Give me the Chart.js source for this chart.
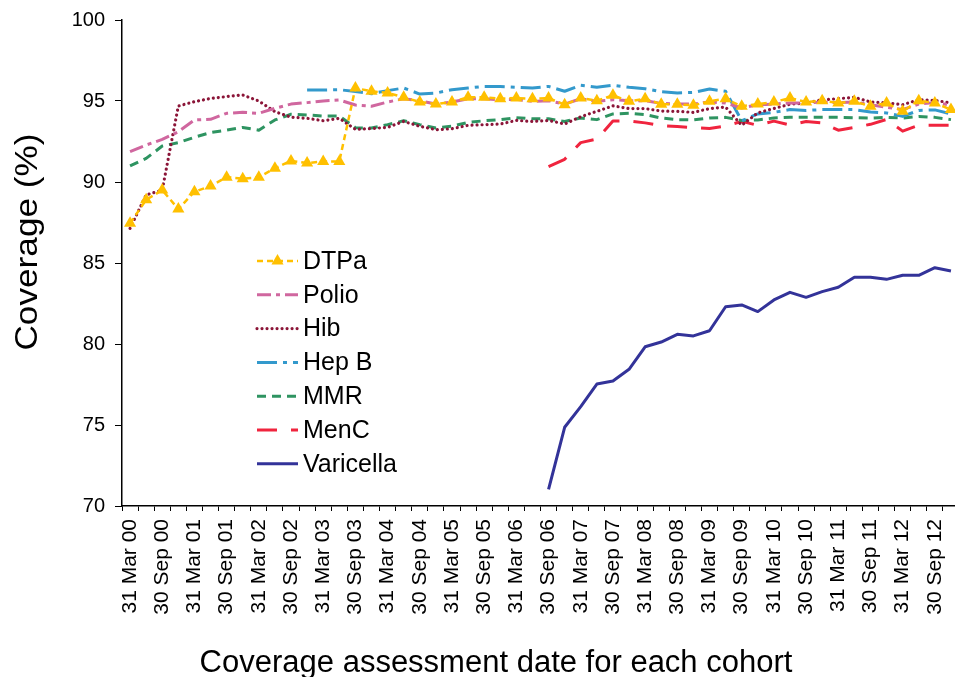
<!DOCTYPE html>
<html><head><meta charset="utf-8">
<script src="https://cdn.jsdelivr.net/npm/chart.js@4.4.0/dist/chart.umd.min.js"></script>
<style>
html,body{margin:0;padding:0;background:#fff;overflow:hidden;width:955px;height:677px}
#wrap{position:absolute;left:0;top:0;width:966px;height:677px}
</style></head><body>
<div id="wrap"><canvas id="c" width="966" height="677"></canvas></div>
<script>
const quarters = [
 "31 Mar 00","30 Jun 00","30 Sep 00","31 Dec 00",
 "31 Mar 01","30 Jun 01","30 Sep 01","31 Dec 01",
 "31 Mar 02","30 Jun 02","30 Sep 02","31 Dec 02",
 "31 Mar 03","30 Jun 03","30 Sep 03","31 Dec 03",
 "31 Mar 04","30 Jun 04","30 Sep 04","31 Dec 04",
 "31 Mar 05","30 Jun 05","30 Sep 05","31 Dec 05",
 "31 Mar 06","30 Jun 06","30 Sep 06","31 Dec 06",
 "31 Mar 07","30 Jun 07","30 Sep 07","31 Dec 07",
 "31 Mar 08","30 Jun 08","30 Sep 08","31 Dec 08",
 "31 Mar 09","30 Jun 09","30 Sep 09","31 Dec 09",
 "31 Mar 10","30 Jun 10","30 Sep 10","31 Dec 10",
 "31 Mar 11","30 Jun 11","30 Sep 11","31 Dec 11",
 "31 Mar 12","30 Jun 12","30 Sep 12","31 Dec 12"
];

const dtpa = [87.45, 88.9, 89.5, 88.33, 89.4, 89.75, 90.3, 90.2, 90.3, 90.85,
 91.3, 91.17, 91.27, 91.27, 95.8, 95.6, 95.5, 95.23, 94.94, 94.81,
 94.94, 95.23, 95.23, 95.14, 95.18, 95.14, 95.18, 94.77, 95.18, 95.02,
 95.35, 94.98, 95.14, 94.8, 94.8, 94.73, 94.98, 95.14, 94.67, 94.81,
 94.94, 95.18, 94.94, 95.02, 94.88, 94.98, 94.67, 94.88, 94.36, 95.02,
 94.88, 94.47];

const polio = [91.87, 92.28, 92.63, 93.1, 93.83, 93.87, 94.24, 94.3, 94.24, 94.55,
 94.81, 94.9, 95.0, 95.06, 94.75, 94.68, 94.94, 95.14, 95.02, 94.81,
 94.94, 95.14, 95.14, 95.08, 95.1, 94.98, 95.02, 94.81, 95.14, 94.98,
 95.08, 95.02, 95.02, 94.85, 94.81, 94.81, 94.94, 94.88, 94.57, 94.77,
 94.81, 94.88, 94.88, 94.94, 94.9, 94.94, 94.77, 94.61, 94.47, 94.81,
 94.9, 94.75];

const hib = [87.14, 89.2, 89.5, 94.69, 94.96, 95.16, 95.27, 95.37, 95.0, 94.34,
 94.0, 93.93, 93.78, 93.93, 93.25, 93.3, 93.37, 93.74, 93.44, 93.23,
 93.29, 93.5, 93.54, 93.58, 93.8, 93.74, 93.8, 93.58, 94.03, 94.36,
 94.7, 94.53, 94.53, 94.38, 94.36, 94.3, 94.53, 94.63, 93.5, 94.27,
 94.54, 94.8, 94.87, 95.08, 95.14, 95.23, 94.94, 94.88, 94.77, 95.08,
 95.04, 94.88];

const hepB = [null, null, null, null, null, null, null, null, null, null,
 null, 95.68, 95.68, 95.7, 95.58, 95.45, 95.64, 95.8, 95.43, 95.49,
 95.7, 95.8, 95.9, 95.9, 95.85, 95.8, 95.9, 95.6, 95.97, 95.85,
 95.97, 95.85, 95.76, 95.58, 95.5, 95.53, 95.74, 95.6, 93.78, 94.2,
 94.3, 94.47, 94.42, 94.47, 94.47, 94.47, 94.32, 94.26, 94.05, 94.42,
 94.45, 94.2];

const mmr = [90.99, 91.46, 92.22, 92.43, 92.76, 93.05, 93.2, 93.37, 93.2, 93.83,
 94.18, 94.14, 94.07, 94.07, 93.35, 93.33, 93.54, 93.78, 93.54, 93.33,
 93.44, 93.68, 93.78, 93.85, 93.97, 93.9, 93.9, 93.74, 93.95, 93.85,
 94.2, 94.24, 94.16, 93.95, 93.85, 93.83, 93.95, 93.99, 93.8, 93.83,
 93.95, 93.99, 93.99, 93.99, 93.99, 93.97, 93.95, 93.99, 93.95, 94.05,
 93.99, 93.85];

const menC = [null, null, null, null, null, null, null, null, null, null,
 null, null, null, null, null, null, null, null, null, null,
 null, null, null, null, null, null, 90.95, 91.4, 92.43, 92.65,
 93.76, 93.77, 93.65, 93.48, 93.42, 93.36, 93.3, 93.45, 93.74, 93.5,
 93.76, 93.52, 93.74, 93.65, 93.2, 93.37, 93.56, 93.86, 93.14, 93.5,
 93.5, 93.5];

const varicella = [null, null, null, null, null, null, null, null, null, null,
 null, null, null, null, null, null, null, null, null, null,
 null, null, null, null, null, null, 71.03, 74.86, 76.13, 77.53,
 77.72, 78.44, 79.83, 80.12, 80.6, 80.5, 80.82, 82.3, 82.41, 82.0,
 82.72, 83.19, 82.88, 83.23, 83.5, 84.12, 84.12, 83.99, 84.24, 84.24,
 84.71, 84.51];

const seriesNames = ["DTPa", "Polio", "Hib", "Hep B", "MMR", "MenC", "Varicella"];
const yTicks = [70, 75, 80, 85, 90, 95, 100];
const xTitle = "Coverage assessment date for each cohort";
const yTitle = "Coverage (%)";

const FONT = "'Liberation Sans', Arial, sans-serif";

const styles = [
  {color: "#FFC000", dash: [6, 4], width: 2.5, cap: "butt", point: "triangle"},
  {color: "#D0679F", dash: [14, 5, 4, 5], width: 3, cap: "butt"},
  {color: "#8B1538", dash: [0.01, 5], width: 3.2, cap: "round"},
  {color: "#3399CC", dash: [20, 6, 4, 6], width: 3, cap: "butt"},
  {color: "#2E9461", dash: [9, 6], width: 3, cap: "butt"},
  {color: "#F0243E", dash: [20, 14], width: 3, cap: "butt"},
  {color: "#333399", dash: [], width: 3, cap: "butt"}
];
const seriesData = [dtpa, polio, hib, hepB, mmr, menC, varicella];

const datasets = seriesData.map((d, i) => ({
  label: seriesNames[i],
  data: d,
  borderColor: styles[i].color,
  backgroundColor: styles[i].color,
  borderWidth: styles[i].width,
  borderDash: styles[i].dash,
  borderCapStyle: styles[i].cap,
  borderJoinStyle: "round",
  tension: 0,
  spanGaps: false,
  fill: false,
  pointStyle: styles[i].point || "circle",
  pointRadius: styles[i].point ? 7 : 0,
  pointBorderWidth: 0,
  pointBackgroundColor: styles[i].color,
  pointHoverRadius: 0
}));

const overlay = {
  id: "overlay",
  afterDraw(chart) {
    const ctx = chart.ctx;
    ctx.save();
    ctx.fillStyle = "#000";
    ctx.font = "31px " + FONT;
    ctx.textAlign = "center";
    ctx.textBaseline = "alphabetic";
    ctx.fillText(xTitle, 496, 672);
    ctx.save();
    ctx.translate(37, 242);
    ctx.rotate(-Math.PI / 2);
    ctx.font = "32px " + FONT;
    ctx.scale(1.1, 1);
    ctx.fillText(yTitle, 0, 0);
    ctx.restore();
    const x0 = 257, x1 = 298;
    chart.data.datasets.forEach((ds, i) => {
      const y = 261 + i * 33.8;
      ctx.save();
      ctx.strokeStyle = ds.borderColor;
      ctx.lineWidth = ds.borderWidth;
      ctx.lineCap = ds.borderCapStyle;
      ctx.setLineDash(ds.borderDash);
      ctx.beginPath();
      ctx.moveTo(x0, y);
      ctx.lineTo(x1, y);
      ctx.stroke();
      ctx.restore();
      if (ds.pointRadius > 0) {
        const cx = (x0 + x1) / 2, r = 7;
        ctx.fillStyle = ds.borderColor;
        ctx.beginPath();
        ctx.moveTo(cx, y - r);
        ctx.lineTo(cx + r * 0.866, y + r / 2);
        ctx.lineTo(cx - r * 0.866, y + r / 2);
        ctx.closePath();
        ctx.fill();
      }
      ctx.fillStyle = "#000";
      ctx.font = "25px " + FONT;
      ctx.textAlign = "left";
      ctx.textBaseline = "middle";
      ctx.fillText(ds.label, 303, y + 1);
    });
    ctx.restore();
  }
};

new Chart(document.getElementById("c"), {
  type: "line",
  data: {labels: quarters, datasets},
  options: {
    responsive: false,
    devicePixelRatio: 1,
    animation: false,
    layout: {padding: {top: 20, right: 3, left: 0, bottom: 0}},
    plugins: {legend: {display: false}, tooltip: {enabled: false}},
    scales: {
      x: {
        type: "category",
        offset: true,
        grid: {offset: true, drawOnChartArea: false, drawTicks: true, tickLength: 5, color: "#000", lineWidth: 1},
        border: {color: "#000", width: 1.5},
        ticks: {
          autoSkip: false, maxRotation: 90, minRotation: 90, padding: 8,
          color: "#000", font: {size: 21, family: FONT},
          callback: function (v, i) { return i % 2 === 0 ? quarters[i] : ""; }
        },
        afterFit(s) { s.height = 171; s.paddingLeft = 0; s.paddingRight = 0; }
      },
      y: {
        min: 70, max: 100,
        afterBuildTicks(s) { s.ticks = yTicks.map(v => ({value: v})); },
        grid: {drawOnChartArea: false, drawTicks: true, tickLength: 7, color: "#000", lineWidth: 1},
        border: {color: "#000", width: 1.5},
        ticks: {color: "#000", font: {size: 20, family: FONT}, padding: 10},
        afterFit(s) { s.width = 122; s.paddingTop = 0; s.paddingBottom = 0; }
      }
    }
  },
  plugins: [overlay]
});
</script>
</body></html>
